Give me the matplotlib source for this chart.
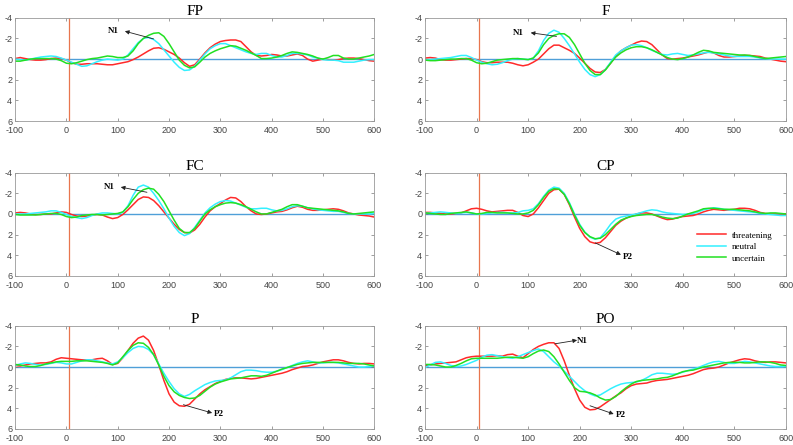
import numpy as np
import matplotlib
matplotlib.use("Agg")
import matplotlib.pyplot as plt

plt.rcParams["axes.unicode_minus"] = False
plt.rcParams["font.family"] = ["Liberation Sans", "DejaVu Sans"]

# tiempo en ms, un valor cada 10 ms
t = np.arange(-100, 601, 10)

# FP
fp_threat = [-0.05, -0.15, -0.05, 0.05, 0.1, 0.1, 0.05, -0.05, -0.1, -0.05,
             0.1, 0.35, 0.5, 0.5, 0.45, 0.45, 0.45, 0.5, 0.55, 0.55,
             0.45, 0.35, 0.25, 0.05, -0.2, -0.5, -0.8, -1.05, -1.1, -0.95,
             -0.7, -0.45, -0.1, 0.35, 0.7, 0.55, 0.0, -0.6, -1.1, -1.45,
             -1.7, -1.8, -1.85, -1.85, -1.7, -1.2, -0.7, -0.35, -0.3, -0.35,
             -0.45, -0.4, -0.3, -0.3, -0.4, -0.5, -0.35, 0.0, 0.2, 0.1,
             0.0, 0.05, 0.1, 0.05, -0.05, -0.1, -0.1, -0.05, 0.05, 0.15,
             0.2]
fp_neutral = [0.0, 0.05, 0.1, 0.0, -0.1, -0.2, -0.25, -0.3, -0.25, -0.1,
              0.1, 0.3, 0.5, 0.7, 0.65, 0.45, 0.25, 0.1, 0.0, 0.05,
              0.1, 0.0, -0.4, -1.0, -1.6, -2.0, -2.1, -1.9, -1.5, -0.9,
              -0.3, 0.3, 0.8, 1.1, 1.05, 0.7, 0.1, -0.5, -1.0, -1.3,
              -1.5, -1.5, -1.3, -1.1, -0.9, -0.7, -0.55, -0.45, -0.55, -0.55,
              -0.35, -0.2, -0.2, -0.35, -0.55, -0.55, -0.5, -0.4, -0.2, -0.1,
              0.05, 0.1, 0.1, 0.15, 0.3, 0.3, 0.3, 0.2, 0.1, 0.05,
              0.05]
fp_uncertain = [0.2, 0.2, 0.1, 0.0, -0.05, -0.05, -0.05, -0.05, 0.0, 0.15,
                0.4, 0.45, 0.35, 0.2, 0.05, -0.05, -0.1, -0.2, -0.3, -0.25,
                -0.15, -0.15, -0.3, -0.8, -1.5, -2.0, -2.3, -2.5, -2.55, -2.2,
                -1.5, -0.7, 0.1, 0.6, 0.85, 0.75, 0.3, -0.2, -0.55, -0.8,
                -1.0, -1.15, -1.3, -1.25, -1.05, -0.85, -0.6, -0.35, -0.05, -0.05,
                -0.1, -0.2, -0.35, -0.55, -0.7, -0.65, -0.55, -0.45, -0.3, -0.1,
                0.0, -0.15, -0.35, -0.35, -0.1, 0.0, 0.0, -0.1, -0.2, -0.3,
                -0.45]

# F
f_threat = [-0.1, -0.15, -0.1, 0.05, 0.1, 0.1, 0.05, 0.0, -0.05, -0.05,
            0.05, 0.25, 0.35, 0.35, 0.3, 0.3, 0.3, 0.4, 0.55, 0.65,
            0.55, 0.3, 0.0, -0.5, -1.0, -1.35, -1.35, -1.1, -0.85, -0.55,
            -0.1, 0.4, 0.9, 1.25, 1.3, 1.0, 0.4, -0.3, -0.8, -1.1,
            -1.35, -1.6, -1.75, -1.7, -1.4, -0.9, -0.4, -0.05, 0.0, -0.05,
            -0.1, -0.2, -0.3, -0.4, -0.55, -0.7, -0.6, -0.35, -0.2, -0.2,
            -0.25, -0.3, -0.35, -0.35, -0.3, -0.25, -0.1, 0.0, 0.1, 0.2,
            0.25]
f_neutral = [0.05, 0.05, 0.0, -0.05, -0.1, -0.15, -0.25, -0.35, -0.35, -0.15,
             0.1, 0.3, 0.45, 0.55, 0.5, 0.35, 0.15, 0.0, -0.05, 0.0,
             0.05, -0.1, -0.8, -1.8, -2.5, -2.8, -2.6, -2.0, -1.3, -0.5,
             0.3, 1.0, 1.5, 1.7, 1.5, 1.0, 0.3, -0.4, -0.8, -1.1,
             -1.35, -1.4, -1.3, -1.1, -0.85, -0.65, -0.45, -0.4, -0.5, -0.55,
             -0.45, -0.35, -0.4, -0.5, -0.6, -0.65, -0.6, -0.5, -0.4, -0.3,
             -0.25, -0.25, -0.25, -0.25, -0.2, -0.1, -0.05, 0.0, 0.0, 0.0,
             0.0]
f_uncertain = [0.1, 0.15, 0.15, 0.1, 0.05, 0.0, 0.0, -0.05, -0.05, 0.1,
               0.35, 0.45, 0.4, 0.25, 0.1, 0.05, 0.0, -0.05, -0.05, 0.0,
               0.05, -0.1, -0.6, -1.4, -2.0, -2.3, -2.45, -2.45, -2.1, -1.4,
               -0.5, 0.4, 1.1, 1.5, 1.5, 1.05, 0.4, -0.2, -0.6, -0.9,
               -1.1, -1.2, -1.2, -1.1, -0.9, -0.65, -0.4, -0.15, 0.0, 0.05,
               -0.05, -0.2, -0.4, -0.65, -0.85, -0.8, -0.65, -0.6, -0.55, -0.5,
               -0.45, -0.4, -0.4, -0.35, -0.25, -0.15, -0.05, -0.1, -0.15, -0.2,
               -0.25]

# FC
fc_threat = [-0.1, -0.15, -0.1, 0.0, 0.05, 0.05, 0.0, 0.0, -0.1, -0.2,
             -0.15, 0.05, 0.2, 0.25, 0.2, 0.1, 0.05, 0.1, 0.3, 0.45,
             0.35, 0.05, -0.4, -0.9, -1.4, -1.65, -1.6, -1.3, -0.8, -0.2,
             0.4, 1.0, 1.5, 1.8, 1.85, 1.55, 1.0, 0.3, -0.3, -0.7,
             -1.0, -1.35, -1.6, -1.55, -1.2, -0.7, -0.3, 0.0, 0.05, 0.0,
             -0.1, -0.2, -0.25, -0.4, -0.6, -0.75, -0.65, -0.45, -0.35, -0.35,
             -0.4, -0.45, -0.5, -0.45, -0.3, -0.1, 0.0, 0.1, 0.15, 0.2,
             0.3]
fc_neutral = [0.0, 0.0, 0.0, -0.05, -0.1, -0.15, -0.2, -0.3, -0.3, -0.15,
              0.05, 0.25, 0.35, 0.45, 0.35, 0.15, 0.0, -0.1, -0.1, -0.05,
              0.0, -0.15, -0.8, -1.8, -2.6, -2.8, -2.6, -2.0, -1.3, -0.5,
              0.4, 1.2, 1.8, 2.1, 1.9, 1.3, 0.6, -0.1, -0.6, -0.95,
              -1.2, -1.3, -1.25, -1.05, -0.85, -0.65, -0.5, -0.5, -0.55, -0.55,
              -0.4, -0.3, -0.35, -0.5, -0.7, -0.8, -0.75, -0.6, -0.5, -0.4,
              -0.35, -0.3, -0.25, -0.25, -0.15, -0.05, 0.0, 0.0, 0.0, 0.0,
              -0.05]
fc_uncertain = [0.05, 0.1, 0.1, 0.1, 0.1, 0.05, 0.0, -0.05, -0.05, 0.05,
                0.25, 0.35, 0.3, 0.15, 0.1, 0.05, 0.05, 0.1, 0.05, 0.0,
                -0.05, -0.2, -0.7, -1.4, -2.0, -2.35, -2.5, -2.4, -1.9, -1.2,
                -0.3, 0.6, 1.4, 1.8, 1.8, 1.4, 0.7, 0.0, -0.4, -0.7,
                -0.9, -1.05, -1.1, -1.05, -0.9, -0.7, -0.45, -0.2, 0.0, 0.0,
                -0.15, -0.3, -0.45, -0.7, -0.9, -0.9, -0.75, -0.6, -0.55, -0.5,
                -0.45, -0.4, -0.35, -0.3, -0.2, -0.05, 0.0, -0.05, -0.1, -0.15,
                -0.2]

# CP
cp_threat = [-0.15, -0.15, -0.1, -0.05, 0.0, 0.0, -0.05, -0.1, -0.3, -0.5,
             -0.55, -0.45, -0.3, -0.2, -0.25, -0.3, -0.35, -0.35, -0.15, 0.15,
             0.25, 0.0, -0.6, -1.3, -2.0, -2.35, -2.4, -1.9, -0.9, 0.3,
             1.4, 2.2, 2.7, 2.85, 2.75, 2.3, 1.7, 1.1, 0.7, 0.4,
             0.2, 0.0, -0.1, -0.1, 0.0, 0.2, 0.4, 0.55, 0.5, 0.35,
             0.25, 0.2, 0.15, 0.0, -0.2, -0.35, -0.45, -0.4, -0.35, -0.4,
             -0.45, -0.55, -0.55, -0.5, -0.35, -0.15, -0.05, 0.0, 0.0, 0.0,
             0.0]
cp_neutral = [-0.05, -0.1, -0.15, -0.2, -0.15, -0.1, -0.05, -0.1, -0.15, -0.1,
              0.0, 0.0, -0.05, -0.1, -0.15, -0.15, -0.1, -0.1, -0.15, -0.3,
              -0.35, -0.5, -1.0, -1.7, -2.3, -2.6, -2.5, -2.0, -1.1, 0.0,
              1.0, 1.75, 2.25, 2.45, 2.3, 1.7, 1.0, 0.5, 0.3, 0.2,
              0.1, 0.0, -0.15, -0.3, -0.4, -0.35, -0.2, -0.1, -0.05, 0.0,
              0.05, 0.0, -0.05, -0.2, -0.4, -0.5, -0.6, -0.55, -0.45, -0.4,
              -0.35, -0.3, -0.25, -0.2, -0.15, -0.05, 0.0, 0.05, 0.1, 0.15,
              0.15]
cp_uncertain = [-0.1, -0.05, 0.0, 0.05, 0.05, -0.05, -0.1, -0.15, -0.2, -0.1,
                0.0, -0.05, -0.15, -0.15, -0.1, -0.1, -0.1, -0.05, 0.0, 0.0,
                -0.1, -0.35, -0.9, -1.6, -2.2, -2.45, -2.4, -1.9, -1.0, 0.1,
                1.1, 1.8, 2.2, 2.4, 2.35, 2.0, 1.5, 1.0, 0.6, 0.4,
                0.25, 0.15, 0.1, 0.05, 0.05, 0.15, 0.3, 0.4, 0.45, 0.4,
                0.2, 0.0, -0.15, -0.3, -0.5, -0.55, -0.55, -0.5, -0.45, -0.45,
                -0.45, -0.4, -0.35, -0.3, -0.2, -0.1, -0.05, -0.1, -0.1, -0.05,
                0.0]

# P
p_threat = [-0.15, -0.1, -0.2, -0.3, -0.35, -0.4, -0.4, -0.5, -0.75, -0.9,
            -0.85, -0.8, -0.75, -0.7, -0.7, -0.7, -0.8, -0.85, -0.6, -0.25,
            -0.35, -0.9, -1.6, -2.3, -2.8, -3.0, -2.6, -1.6, -0.2, 1.3,
            2.6, 3.4, 3.75, 3.8, 3.6, 3.1, 2.6, 2.2, 1.9, 1.6,
            1.4, 1.2, 1.1, 1.05, 1.05, 1.1, 1.15, 1.1, 1.0, 0.9,
            0.8, 0.7, 0.6, 0.45, 0.25, 0.1, -0.05, -0.1, -0.2, -0.35,
            -0.5, -0.6, -0.7, -0.7, -0.6, -0.45, -0.35, -0.3, -0.35, -0.35,
            -0.3]
p_neutral = [-0.15, -0.3, -0.4, -0.35, -0.25, -0.2, -0.25, -0.35, -0.45, -0.4,
             -0.3, -0.3, -0.45, -0.6, -0.7, -0.7, -0.6, -0.5, -0.4, -0.3,
             -0.5, -0.9, -1.4, -1.8, -2.0, -1.95, -1.7, -1.2, -0.3, 0.6,
             1.4, 2.1, 2.6, 2.85, 2.65, 2.3, 2.0, 1.7, 1.5, 1.35,
             1.3, 1.25, 1.05, 0.75, 0.45, 0.3, 0.3, 0.35, 0.45, 0.5,
             0.5, 0.4, 0.25, 0.05, -0.15, -0.35, -0.5, -0.6, -0.5, -0.4,
             -0.4, -0.45, -0.45, -0.4, -0.3, -0.2, -0.1, 0.0, 0.0, -0.05,
             -0.1]
p_uncertain = [-0.25, -0.2, -0.1, -0.05, -0.05, -0.15, -0.3, -0.4, -0.5, -0.55,
               -0.55, -0.55, -0.6, -0.6, -0.6, -0.55, -0.5, -0.45, -0.35, -0.2,
               -0.4, -1.0, -1.6, -2.1, -2.35, -2.3, -1.9, -1.2, -0.2, 0.9,
               1.8, 2.4, 2.75, 2.95, 3.05, 3.0, 2.75, 2.35, 1.95, 1.65,
               1.45, 1.3, 1.15, 1.1, 1.05, 0.95, 0.85, 0.85, 0.9, 0.8,
               0.6, 0.4, 0.2, 0.05, -0.1, -0.25, -0.35, -0.4, -0.45, -0.45,
               -0.45, -0.45, -0.45, -0.45, -0.4, -0.35, -0.35, -0.35, -0.3, -0.2,
               -0.1]

# PO
po_threat = [-0.1, -0.2, -0.3, -0.35, -0.4, -0.45, -0.5, -0.7, -0.9, -1.0,
             -1.05, -1.05, -1.05, -1.05, -1.1, -1.05, -1.2, -1.25, -1.05, -0.9,
             -1.3, -1.7, -2.0, -2.2, -2.35, -2.35, -1.8, -0.6, 0.8, 2.1,
             3.2, 3.9, 4.15, 4.1, 3.85, 3.5, 3.15, 2.8, 2.5, 2.1,
             1.8, 1.65, 1.6, 1.55, 1.4, 1.3, 1.25, 1.2, 1.1, 1.0,
             0.9, 0.8, 0.65, 0.45, 0.25, 0.15, 0.1, 0.0, -0.2, -0.4,
             -0.55, -0.7, -0.8, -0.75, -0.6, -0.5, -0.45, -0.5, -0.5, -0.45,
             -0.4]
po_neutral = [0.05, -0.2, -0.45, -0.5, -0.35, -0.15, -0.05, -0.1, -0.25, -0.45,
              -0.65, -0.95, -1.15, -1.2, -1.1, -1.0, -0.9, -0.85, -1.0, -1.2,
              -1.4, -1.6, -1.75, -1.5, -1.0, -0.5, -0.1, 0.4, 0.9, 1.4,
              1.9, 2.3, 2.6, 2.8, 2.7, 2.4, 2.1, 1.85, 1.65, 1.55,
              1.5, 1.45, 1.3, 1.05, 0.75, 0.6, 0.6, 0.65, 0.7, 0.65,
              0.5, 0.35, 0.2, 0.05, -0.15, -0.35, -0.5, -0.55, -0.45, -0.35,
              -0.35, -0.45, -0.55, -0.5, -0.4, -0.3, -0.2, -0.1, -0.05, -0.05,
              -0.05]
po_uncertain = [-0.25, -0.25, -0.2, -0.1, 0.0, 0.0, -0.15, -0.35, -0.6, -0.8,
                -0.85, -0.85, -0.85, -0.85, -0.85, -0.9, -0.95, -0.95, -0.9, -0.85,
                -1.0, -1.3, -1.55, -1.65, -1.5, -1.0, -0.3, 0.5, 1.3, 2.0,
                2.35, 2.4, 2.5, 2.7, 3.0, 3.2, 3.15, 2.85, 2.4, 2.0,
                1.65, 1.4, 1.3, 1.25, 1.2, 1.15, 1.05, 1.0, 0.85, 0.65,
                0.45, 0.35, 0.3, 0.15, 0.0, -0.1, -0.2, -0.3, -0.4, -0.45,
                -0.45, -0.45, -0.4, -0.4, -0.45, -0.5, -0.5, -0.45, -0.35, -0.2,
                -0.15]

titulos = ["FP", "F", "FC", "CP", "P", "PO"]
condiciones = ["threatening", "neutral", "uncertain"]
colores = ["#ff2a2a", "#33f0ff", "#22e022"]

datos = {
    "FP": (fp_threat, fp_neutral, fp_uncertain),
    "F": (f_threat, f_neutral, f_uncertain),
    "FC": (fc_threat, fc_neutral, fc_uncertain),
    "CP": (cp_threat, cp_neutral, cp_uncertain),
    "P": (p_threat, p_neutral, p_uncertain),
    "PO": (po_threat, po_neutral, po_uncertain),
}

# flechas: (etiqueta, cola, punta, posicion del texto)
flechas = {
    "FP": [("N1", (170, -1.95), (114, -2.7), (92, -2.7))],
    "F": [("N1", (155, -2.2), (105, -2.55), (80, -2.55))],
    "FC": [("N1", (157, -2.1), (106, -2.6), (84, -2.6))],
    "CP": [("P2", (230, 2.8), (280, 3.95), (294, 4.2))],
    "P": [("P2", (228, 3.65), (284, 4.45), (297, 4.55))],
    "PO": [("N1", (152, -2.25), (195, -2.6), (206, -2.55)),
           ("P2", (220, 3.75), (266, 4.55), (279, 4.65))],
}

# posiciones de los ejes en fracciones de la figura
izq = [0.019, 0.536]
ancho = [0.453, 0.455]
abajo = [0.728, 0.380, 0.036]
alto = 0.232

fig = plt.figure(figsize=(7.93, 4.45), dpi=100)

for i, nombre in enumerate(titulos):
    fila, col = divmod(i, 2)
    ax = fig.add_axes([izq[col], abajo[fila], ancho[col], alto])
    ax.axhline(0, color="#4f9fd8", lw=1.0, zorder=1)
    ax.axvline(5, color="#e8764e", lw=0.9, zorder=1)
    for serie, etiqueta, c in zip(datos[nombre], condiciones, colores):
        assert len(serie) == len(t)
        ax.plot(t, serie, color=c, lw=1.1, label=etiqueta, zorder=2)
    for texto, cola, punta, pos in flechas[nombre]:
        ax.annotate("", xy=punta, xytext=cola,
                    arrowprops=dict(arrowstyle="-|>", color="#222222", lw=0.6,
                                    mutation_scale=6, shrinkA=0, shrinkB=0))
        ax.text(pos[0], pos[1], texto, fontfamily="Liberation Serif",
                fontweight="bold", fontsize=6.5, ha="center", va="center")
    ax.set_xlim(-100, 600)
    ax.set_ylim(6, -4)
    ax.set_xticks(np.arange(-100, 601, 100))
    ax.set_yticks(np.arange(-4, 7, 2))
    ax.tick_params(direction="in", top=True, right=True, length=2.5, width=0.5,
                   color="#777777", labelcolor="#444444", labelsize=6.5)
    ax.tick_params(axis="x", pad=3.5)
    ax.tick_params(axis="y", pad=2)
    for s in ax.spines.values():
        s.set_color("#999999")
        s.set_linewidth(0.6)
    ax.set_title(nombre, fontfamily="Liberation Serif", fontsize=11, pad=2)
    if nombre == "CP":
        ax.legend(loc="lower right", bbox_to_anchor=(0.985, 0.05), frameon=False,
                  prop={"family": "Liberation Serif", "size": 6.5},
                  handlelength=3.2, labelspacing=0.35, handletextpad=0.6)

fig.savefig("out.png", dpi=100)
